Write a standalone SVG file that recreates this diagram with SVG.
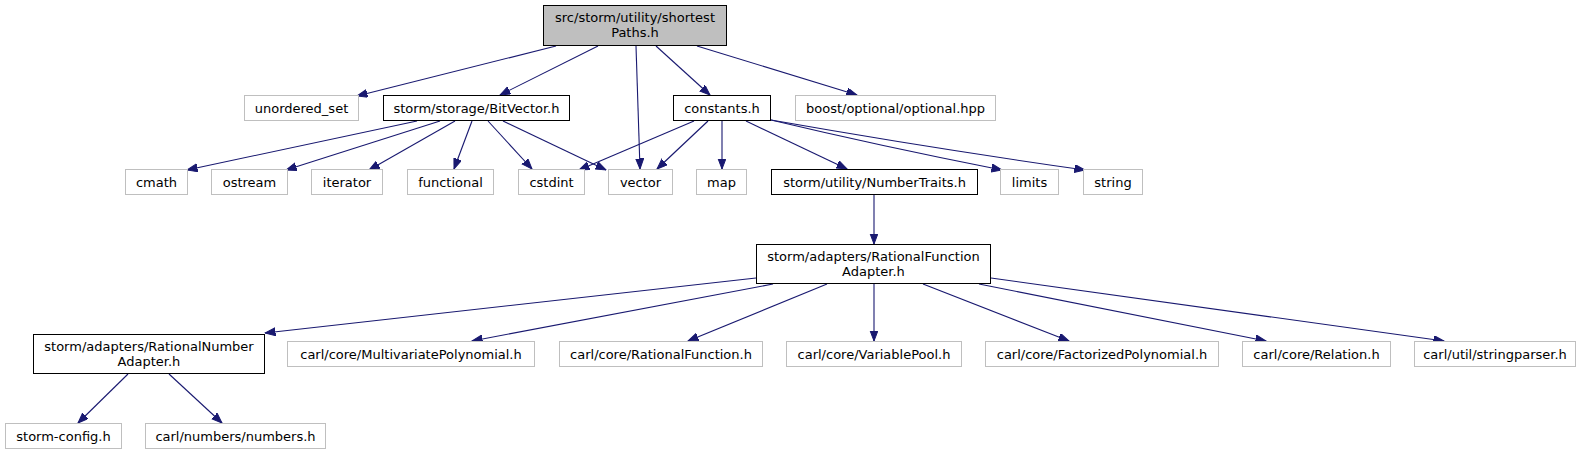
<svg xmlns="http://www.w3.org/2000/svg" width="1584" height="455" viewBox="0 0 1584 455">
<defs>
<style>
.n rect{fill:#fff;stroke:#bfbfbf;stroke-width:1}
.n.l rect{stroke:#000}
.n.r rect{fill:#bfbfbf;stroke:#000}
.n text{font-family:"DejaVu Sans",Verdana,sans-serif;font-size:13px;fill:#000;text-anchor:middle}
.e path{fill:none;stroke:#191970;stroke-width:1.1}
</style>
<marker id="ah" markerUnits="userSpaceOnUse" markerWidth="11" markerHeight="9" refX="10.5" refY="4" orient="auto">
<path d="M0,0 L10.5,4 L0,8 z" fill="#191970" stroke="#191970" stroke-width="1"/>
</marker>
</defs>
<rect width="1584" height="455" fill="#fff"/>
<g id="edges" class="e">
<path d="M556,46 L357,96" marker-end="url(#ah)"/>
<path d="M598,46 L500,95" marker-end="url(#ah)"/>
<path d="M636,46 L640,169" marker-end="url(#ah)"/>
<path d="M656,46 L710,95" marker-end="url(#ah)"/>
<path d="M697,46 L857,95" marker-end="url(#ah)"/>
<path d="M417,121 L187,170" marker-end="url(#ah)"/>
<path d="M440,121 L286,170" marker-end="url(#ah)"/>
<path d="M455,121 L369,170" marker-end="url(#ah)"/>
<path d="M472,121 L454,169" marker-end="url(#ah)"/>
<path d="M488,121 L532,169" marker-end="url(#ah)"/>
<path d="M503,121 L606,170" marker-end="url(#ah)"/>
<path d="M694,121 L579,170" marker-end="url(#ah)"/>
<path d="M708,121 L657,169" marker-end="url(#ah)"/>
<path d="M722,121 L722,169" marker-end="url(#ah)"/>
<path d="M746,121 L847,169" marker-end="url(#ah)"/>
<path d="M771,120 Q880,146 1002,170" marker-end="url(#ah)"/>
<path d="M771,120 Q930,148 1085,170" marker-end="url(#ah)"/>
<path d="M874,195 L874,244" marker-end="url(#ah)"/>
<path d="M756,278 L265,333" marker-end="url(#ah)"/>
<path d="M773,284 L472,341" marker-end="url(#ah)"/>
<path d="M827,284 L688,341" marker-end="url(#ah)"/>
<path d="M874,284 L874,341" marker-end="url(#ah)"/>
<path d="M923,284 L1069,341" marker-end="url(#ah)"/>
<path d="M979,284 L1266,341" marker-end="url(#ah)"/>
<path d="M991,278 L1444,341" marker-end="url(#ah)"/>
<path d="M128,374 L78,423" marker-end="url(#ah)"/>
<path d="M169,374 L222,423" marker-end="url(#ah)"/>
</g>
<g id="root" class="n r"><rect x="543.5" y="5.5" width="183" height="40"/><text x="635" y="22">src/storm/utility/shortest</text><text x="635" y="37">Paths.h</text></g>
<g id="unordered_set" class="n"><rect x="244.5" y="95.5" width="114" height="25"/><text x="301.5" y="112.5">unordered_set</text></g>
<g id="bitvector" class="n l"><rect x="383.5" y="95.5" width="186" height="25"/><text x="476.5" y="112.5">storm/storage/BitVector.h</text></g>
<g id="constants" class="n l"><rect x="673.5" y="95.5" width="97" height="25"/><text x="722" y="112.5">constants.h</text></g>
<g id="boost_optional" class="n"><rect x="795.5" y="95.5" width="200" height="25"/><text x="895.5" y="112.5">boost/optional/optional.hpp</text></g>
<g id="cmath" class="n"><rect x="125.5" y="169.5" width="62" height="25"/><text x="156.5" y="186.5">cmath</text></g>
<g id="ostream" class="n"><rect x="211.5" y="169.5" width="76" height="25"/><text x="249.5" y="186.5">ostream</text></g>
<g id="iterator" class="n"><rect x="311.5" y="169.5" width="71" height="25"/><text x="347" y="186.5">iterator</text></g>
<g id="functional" class="n"><rect x="407.5" y="169.5" width="86" height="25"/><text x="450.5" y="186.5">functional</text></g>
<g id="cstdint" class="n"><rect x="518.5" y="169.5" width="66" height="25"/><text x="551.5" y="186.5">cstdint</text></g>
<g id="vector" class="n"><rect x="608.5" y="169.5" width="64" height="25"/><text x="640.5" y="186.5">vector</text></g>
<g id="map" class="n"><rect x="696.5" y="169.5" width="50" height="25"/><text x="721.5" y="186.5">map</text></g>
<g id="numbertraits" class="n l"><rect x="771.5" y="169.5" width="206" height="25"/><text x="874.5" y="186.5">storm/utility/NumberTraits.h</text></g>
<g id="limits" class="n"><rect x="1000.5" y="169.5" width="58" height="25"/><text x="1029.5" y="186.5">limits</text></g>
<g id="string" class="n"><rect x="1083.5" y="169.5" width="59" height="25"/><text x="1113" y="186.5">string</text></g>
<g id="rfadapter" class="n l"><rect x="756.5" y="244.5" width="234" height="39"/><text x="873.5" y="260.5">storm/adapters/RationalFunction</text><text x="873.5" y="275.5">Adapter.h</text></g>
<g id="rnadapter" class="n l"><rect x="33.5" y="334.5" width="231" height="39"/><text x="149" y="350.5">storm/adapters/RationalNumber</text><text x="149" y="365.5">Adapter.h</text></g>
<g id="multivariate" class="n"><rect x="287.5" y="341.5" width="247" height="25"/><text x="411" y="358.5">carl/core/MultivariatePolynomial.h</text></g>
<g id="rationalfunction" class="n"><rect x="559.5" y="341.5" width="203" height="25"/><text x="661" y="358.5">carl/core/RationalFunction.h</text></g>
<g id="variablepool" class="n"><rect x="786.5" y="341.5" width="175" height="25"/><text x="874" y="358.5">carl/core/VariablePool.h</text></g>
<g id="factorized" class="n"><rect x="985.5" y="341.5" width="233" height="25"/><text x="1102" y="358.5">carl/core/FactorizedPolynomial.h</text></g>
<g id="relation" class="n"><rect x="1242.5" y="341.5" width="148" height="25"/><text x="1316.5" y="358.5">carl/core/Relation.h</text></g>
<g id="stringparser" class="n"><rect x="1414.5" y="341.5" width="161" height="25"/><text x="1495" y="358.5">carl/util/stringparser.h</text></g>
<g id="stormconfig" class="n"><rect x="5.5" y="423.5" width="116" height="25"/><text x="63.5" y="440.5">storm-config.h</text></g>
<g id="numbers" class="n"><rect x="145.5" y="423.5" width="180" height="25"/><text x="235.5" y="440.5">carl/numbers/numbers.h</text></g>
</svg>
